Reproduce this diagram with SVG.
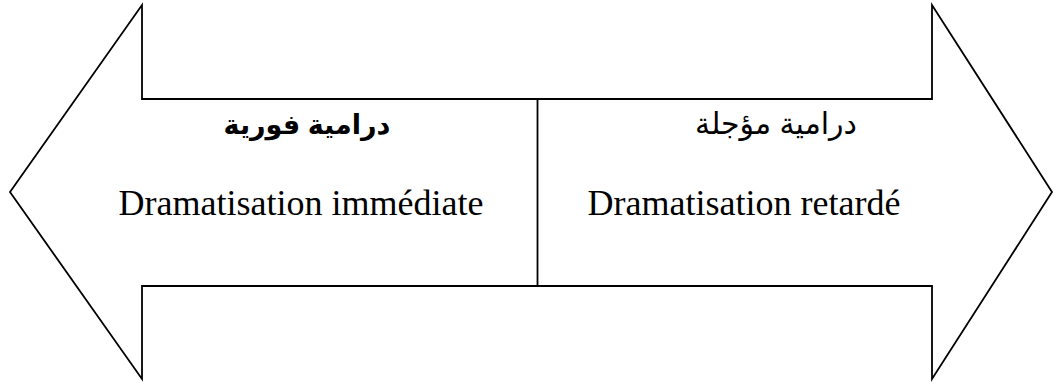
<svg xmlns="http://www.w3.org/2000/svg" width="1054" height="383" viewBox="0 0 1054 383">
  <style>
    .outline { fill: #ffffff; stroke: #000000; stroke-width: 1.8; stroke-linejoin: miter; }
    .divider { stroke: #000000; stroke-width: 1.8; }
    .ar { font-family: "Liberation Sans", "DejaVu Sans", sans-serif; fill: #000; text-anchor: middle; }
    .ar-bold { font-weight: bold; font-size: 27px; }
    .ar-reg { font-size: 30px; }
    .fr { font-family: "Liberation Serif", "Times New Roman", serif; font-size: 36px; fill: #000; text-anchor: middle; }
  </style>
  <rect width="1054" height="383" fill="#ffffff"/>

  <!-- double-headed arrow outline -->
  <g id="arrow">
    <path class="outline" d="M10,192 L142,5 L142,99 L932,99 L932,5 L1052,192 L932,379 L932,286 L142,286 L142,379 Z"/>
  </g>

  <!-- separator between the two halves -->
  <g id="connectors">
    <line class="divider" x1="537.5" y1="99" x2="537.5" y2="286"/>
  </g>

  <g id="immediate">
    <text class="ar ar-bold" x="307" y="134">درامية فورية</text>
    <text class="fr" x="301" y="215">Dramatisation immédiate</text>
  </g>

  <g id="delayed">
    <text class="ar ar-reg" x="776" y="134">درامية مؤجلة</text>
    <text class="fr" x="744" y="215">Dramatisation retardé</text>
  </g>
</svg>
